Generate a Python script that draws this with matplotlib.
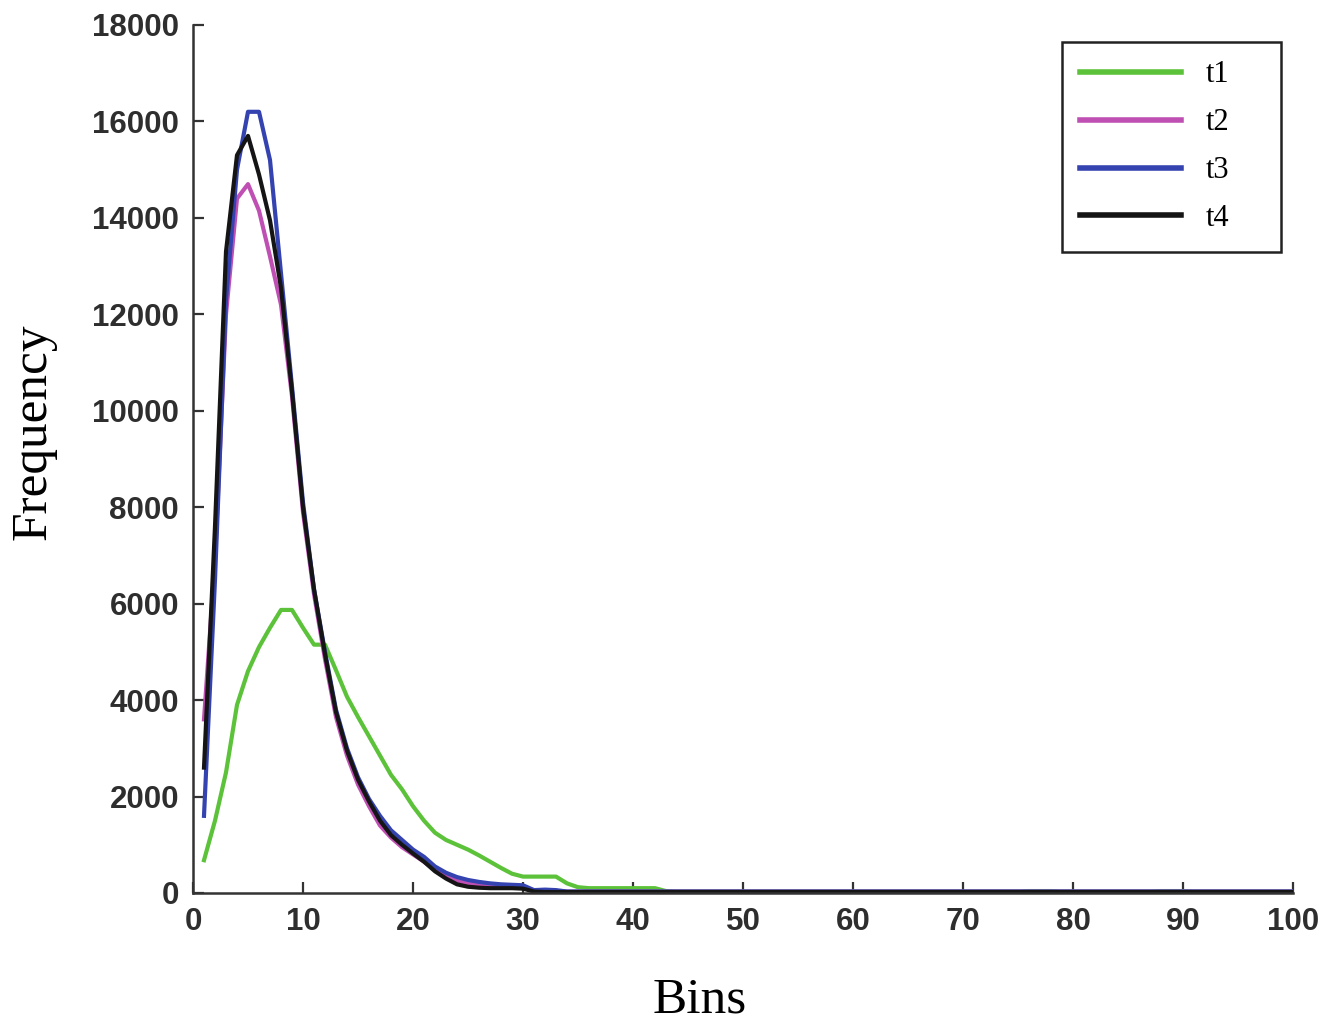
import numpy as np
import matplotlib.pyplot as plt

# bins 1..100, values
bins = np.arange(1, 101)

t1 = [680, 1500, 2500, 3900, 4600, 5100, 5500, 5870, 5870, 5500,
      5150, 5150, 4620, 4070, 3650, 3250, 2850, 2450, 2150, 1800,
      1500, 1250, 1100, 1000, 900, 780, 650, 520, 400, 340,
      340, 340, 340, 200, 120, 100, 100, 100, 100, 100,
      100, 100, 40, 30, 30, 30, 30, 30, 30, 30,
      30, 30, 30, 30, 30, 30, 30, 30, 30, 30,
      30, 30, 30, 30, 30, 30, 30, 30, 30, 30,
      30, 30, 30, 30, 30, 40, 40, 40, 30, 30,
      30, 30, 30, 30, 30, 30, 30, 40, 40, 40,
      30, 30, 30, 30, 30, 30, 30, 30, 30, 30]

t2 = [3600, 6900, 12000, 14400, 14700, 14150, 13200, 12200, 10300, 7900,
      6200, 4850, 3650, 2850, 2250, 1800, 1400, 1150, 950, 800,
      650, 480, 350, 250, 200, 170, 150, 140, 130, 120,
      50, 40, 40, 30, 30, 30, 30, 30, 30, 30,
      30, 30, 30, 30, 30, 30, 30, 30, 30, 30,
      30, 30, 30, 30, 30, 30, 30, 30, 30, 30,
      30, 30, 30, 30, 30, 30, 30, 30, 30, 30,
      30, 30, 30, 30, 30, 30, 30, 30, 30, 30,
      30, 30, 30, 30, 30, 30, 30, 30, 30, 30,
      30, 30, 30, 30, 30, 30, 30, 30, 30, 30]

t3 = [1600, 6500, 12300, 15000, 16200, 16200, 15200, 12850, 10500, 8100,
      6300, 5000, 3800, 3000, 2400, 1950, 1600, 1300, 1100, 900,
      750, 550, 420, 330, 270, 230, 200, 180, 170, 160,
      60, 70, 60, 30, 30, 30, 30, 30, 30, 30,
      30, 30, 30, 30, 30, 30, 30, 30, 30, 30,
      30, 30, 30, 30, 30, 30, 30, 30, 30, 30,
      30, 30, 30, 30, 30, 30, 30, 30, 30, 30,
      30, 30, 30, 30, 30, 30, 30, 30, 30, 30,
      30, 30, 30, 30, 30, 30, 30, 30, 30, 30,
      30, 30, 30, 30, 30, 30, 30, 30, 30, 30]

t4 = [2600, 7600, 13300, 15300, 15700, 14900, 13950, 12550, 10400, 8000,
      6300, 4950, 3750, 2950, 2350, 1900, 1500, 1200, 1000, 820,
      650, 450, 300, 180, 130, 110, 100, 100, 100, 90,
      30, 20, 20, 20, 20, 20, 20, 20, 20, 20,
      20, 20, 20, 20, 20, 20, 20, 20, 20, 20,
      20, 20, 20, 20, 20, 20, 20, 20, 20, 20,
      20, 20, 20, 20, 20, 20, 20, 20, 20, 20,
      20, 20, 20, 20, 20, 20, 20, 20, 20, 20,
      20, 20, 20, 20, 20, 20, 20, 20, 20, 20,
      20, 20, 20, 20, 20, 20, 20, 20, 20, 20]

labels = ["t1", "t2", "t3", "t4"]
colors = ["#5cc23a", "#c04fb4", "#3443b0", "#151515"]

fig = plt.figure(figsize=(13.26, 10.24), dpi=100)
ax = fig.add_axes([193/1326, 1-893/1024, 1100/1326, 868/1024])

for y, lab, c in zip([t1, t2, t3, t4], labels, colors):
    ax.plot(bins, y, color=c, lw=3.0, label=lab)

ax.set_xlim(0, 100)
ax.set_ylim(0, 18000)
ax.set_xticks(np.arange(0, 101, 10))
ax.set_yticks(np.arange(0, 18001, 2000))

for s in ["top", "right"]:
    ax.spines[s].set_visible(False)
for s in ["left", "bottom"]:
    ax.spines[s].set_color("#333333")
    ax.spines[s].set_linewidth(1.8)

ax.tick_params(direction="in", length=8, width=1.6, color="#333333",
               labelsize=22.5, labelcolor="#2e2e2e")
ax.tick_params(axis="x", pad=10)
ax.tick_params(axis="y", pad=10)
for t in ax.get_xticklabels() + ax.get_yticklabels():
    t.set_fontfamily("Liberation Sans")
    t.set_fontweight("bold")

fig.text(33/1326, 1-432/1024, "Frequency", rotation=90, ha="center", va="center",
         fontsize=37, family="Liberation Serif")
fig.text(700/1326, 1-1000/1024, "Bins", ha="center", va="center",
         fontsize=37, family="Liberation Serif")

leg = ax.legend(loc="upper left",
                bbox_to_anchor=((1062-193)/1100, (893-42)/868 - 0.01, 219/1100, 0.01),
                mode="expand", borderaxespad=0, fancybox=False, framealpha=1,
                prop={"family": "Liberation Serif", "size": 22},
                handlelength=3.3, handletextpad=0.8, labelspacing=0.62,
                borderpad=0.6)
leg.get_frame().set_edgecolor("#222222")
leg.get_frame().set_linewidth(1.8)
for h in leg.get_lines():
    h.set_linewidth(4)

fig.savefig("out.png", dpi=100)
